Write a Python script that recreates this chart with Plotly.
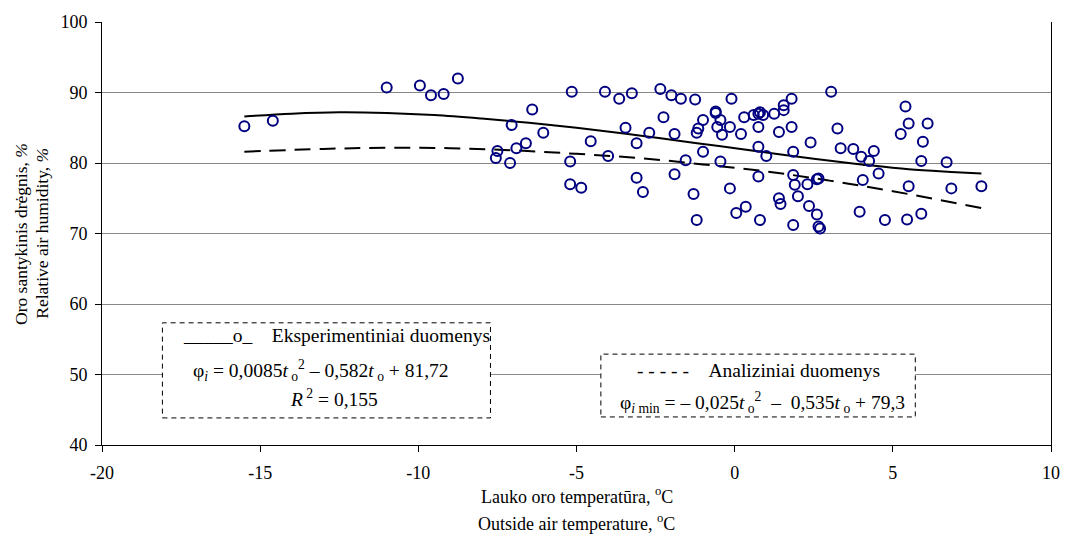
import plotly.graph_objects as go

# ---- data ----
temp_obs = [-15.5, -14.6, -11.0, -9.95, -9.6, -9.2, -8.75, -7.5, -7.55, -7.05,
            -7.1, -6.9, -6.6, -6.4, -6.05, -5.15, -5.2, -5.2, -4.85, -4.55,
            -4.1, -4.0, -3.65, -3.45, -3.25, -3.1, -3.1, -2.9, -2.7, -2.35,
            -2.25, -2.0, -1.9, -1.9, -1.7, -1.55, -1.3, -1.25, -1.2, -1.15,
            -1.0, -1.0, -0.6, -0.6, -0.55, -0.45, -0.4, -0.45, -0.15, -0.15,
            -0.1, 0.2, 0.05, 0.35, 0.3, 0.6, 0.75, 0.8, 0.9, 1.25,
            1.55, 1.55, 1.8, 0.75, 1.4, 1.8, 0.75, 1.0, 1.85, 2.4,
            3.05, 3.25, 3.35, 3.75, 4.0, 4.4, 4.25, 4.55, 1.85, 1.9,
            2.3, 2.65, 2.6, 2.0, 1.4, 1.45, 0.75, 2.35, 3.95, 4.05,
            5.4, 5.5, 6.1, 5.25, 5.95, 5.9, 6.7, 5.5, 6.85, 7.8,
            -1.2, 0.8, 1.85, 2.6, 2.65, 2.7, 4.75, 5.45, 5.9]
hum_obs = [85.2, 86.0, 90.7, 91.0, 89.6, 89.8, 92.0, 81.7, 80.7, 85.4,
           80.0, 82.1, 82.8, 87.6, 84.3, 90.1, 80.2, 77.0, 76.5, 83.1,
           90.1, 81.0, 89.1, 85.0, 89.9, 82.8, 77.9, 75.9, 84.3, 90.5,
           86.5, 89.6, 84.1, 78.4, 89.1, 80.4, 75.6, 89.0, 84.3, 84.9,
           86.1, 81.6, 87.3, 87.1, 85.1, 86.1, 84.0, 80.2, 76.4, 85.1,
           89.1, 84.1, 72.9, 73.8, 86.5, 86.8, 87.0, 87.2, 86.8, 87.0,
           88.2, 87.5, 89.1, 85.1, 84.4, 85.1, 82.3, 81.0, 81.6, 82.9,
           90.1, 84.9, 82.1, 82.0, 80.9, 81.7, 80.3, 78.5, 78.3, 76.9,
           77.0, 77.8, 77.7, 75.3, 75.0, 74.2, 78.1, 73.9, 73.1, 77.6,
           88.0, 85.6, 85.6, 84.1, 83.0, 80.3, 80.1, 76.7, 76.4, 76.7,
           71.9, 71.9, 71.2, 72.7, 71.0, 70.7, 71.9, 72.0, 72.8]

trend_t = [-15.5, -14, -12.5, -11, -9.5, -8, -6.5, -5, -3.5, -2, -0.5, 1, 2.5, 4, 5.5, 7, 7.8]
trend_h = [86.6, 87.0, 87.2, 87.1, 86.8, 86.3, 85.7, 85.0, 84.2, 83.3, 82.4, 81.5, 80.6, 79.8, 79.1, 78.7, 78.5]

# analytical curve (dashed)
anal_t = [-15.5, -13, -11, -9, -7, -5, -3, -1, 1, 3, 5, 7.8]
anal_h = [81.6, 82.0, 82.15, 82.1, 81.8, 81.3, 80.7, 79.8, 78.8, 77.5, 76.0, 73.6]

x_ticks = [-20, -15, -10, -5, 0, 5, 10]
y_ticks = [40, 50, 60, 70, 80, 90, 100]

FONT = "Liberation Serif, Times New Roman, serif"
NB = "&nbsp;"

fig = go.Figure()
fig.add_trace(go.Scatter(x=anal_t, y=anal_h, mode="lines", line=dict(color="black", width=2, dash="16px,9px"),
                         line_shape="spline", hoverinfo="skip"))
fig.add_trace(go.Scatter(x=trend_t, y=trend_h, mode="lines", line=dict(color="black", width=2),
                         line_shape="spline", hoverinfo="skip"))
fig.add_trace(go.Scatter(x=temp_obs, y=hum_obs, mode="markers",
                         marker=dict(symbol="circle-open", size=10, color="#000080", line=dict(width=2, color="#000080"))))

# legend-like boxes
fig.add_shape(type="rect", xref="x", yref="y", x0=-18.09, x1=-7.72, y0=43.84, y1=57.33,
              line=dict(color="black", width=1, dash="5px,4px"), fillcolor="white", layer="above")
fig.add_shape(type="rect", xref="x", yref="y", x0=-4.23, x1=5.71, y0=43.98, y1=52.89,
              line=dict(color="black", width=1, dash="5px,4px"), fillcolor="white", layer="above")

tf = dict(family=FONT, size=19.5, color="black")
fig.add_annotation(x=-12.6, y=55.5, xref="x", yref="y", showarrow=False, font=tf, xanchor="center",
                   text="_____o_" + NB * 4 + "Eksperimentiniai duomenys")
fig.add_annotation(x=-13.09, y=50.5, xref="x", yref="y", showarrow=False, font=tf, xanchor="center",
                   text="φ<sub><i>i</i></sub> = 0,0085<i>t</i><sub> o</sub><sup>2</sup> – 0,582<i>t</i><sub> o</sub> + 81,72")
fig.add_annotation(x=-12.66, y=46.6, xref="x", yref="y", showarrow=False, font=tf, xanchor="center",
                   text="<i>R</i><sup> 2</sup> = 0,155")
fig.add_annotation(x=0.75, y=50.5, xref="x", yref="y", showarrow=False, font=tf, xanchor="center",
                   text="- - - - -" + NB * 4 + "Analiziniai duomenys")
fig.add_annotation(x=0.88, y=46.1, xref="x", yref="y", showarrow=False, font=tf, xanchor="center",
                   text="φ<sub><i>i</i>" + NB + "min</sub> = – 0,025<i>t</i><sub> o</sub><sup>2</sup>"
                        + NB * 2 + "–" + NB * 2 + "0,535<i>t</i><sub> o</sub> + 79,3")

# axis titles
tt = dict(family=FONT, size=18, color="black")
fig.add_annotation(x=0.5, y=-0.119, xref="paper", yref="paper", showarrow=False, font=tt,
                   text="Lauko oro temperatūra, <sup>o</sup>C", xanchor="center", yanchor="middle")
fig.add_annotation(x=0.5, y=-0.183, xref="paper", yref="paper", showarrow=False, font=tt,
                   text="Outside air temperature, <sup>o</sup>C", xanchor="center", yanchor="middle")
yt = dict(family=FONT, size=17.5, color="black")
fig.add_annotation(x=(20 - 102.3) / 958, y=0.5, xref="paper", yref="paper", showarrow=False, textangle=-90,
                   font=yt, xanchor="center", yanchor="middle",
                   text="Oro santykinis drėgnis, <i>%</i>")
fig.add_annotation(x=(41 - 102.3) / 958, y=0.5, xref="paper", yref="paper", showarrow=False, textangle=-90,
                   font=yt, xanchor="center", yanchor="middle",
                   text="Relative air humidity, <i>%</i>")

fig.update_layout(
    width=1072, height=541,
    margin=dict(l=102, r=12, t=18, b=96),
    paper_bgcolor="white", plot_bgcolor="white",
    showlegend=False,
    font=dict(family=FONT, size=18, color="black"),
)
fig.update_xaxes(range=[-20, 10], tickvals=x_ticks, ticktext=[str(v) for v in x_ticks],
                 showgrid=False, zeroline=False, showline=True, linecolor="black", linewidth=1,
                 ticks="outside", ticklen=6, tickcolor="black", tickfont=dict(family=FONT, size=18),
                 ticklabelstandoff=5)
fig.update_yaxes(range=[40, 100], tickvals=y_ticks, ticktext=[str(v) for v in y_ticks],
                 showgrid=True, gridcolor="#888888", gridwidth=1, zeroline=False,
                 showline=True, mirror=True, linecolor="black", linewidth=1,
                 ticks="outside", ticklen=6, tickcolor="black", tickfont=dict(family=FONT, size=18),
                 ticklabelstandoff=4)

fig.write_html("out.html")
